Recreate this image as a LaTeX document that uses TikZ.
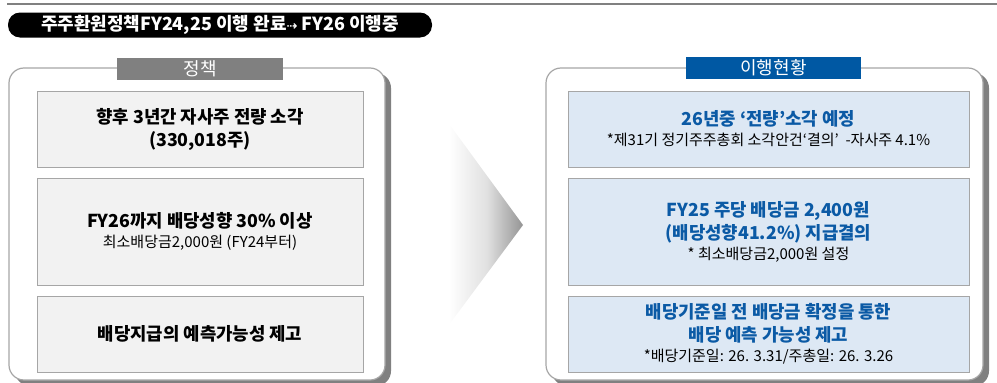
\documentclass[tikz,border=0pt]{standalone}
\usepackage{fontspec}
\setmainfont{Noto Sans CJK KR}
\newfontfamily\symfont{DejaVu Sans}
\usetikzlibrary{positioning}

\definecolor{krblue}{HTML}{0B5AA5}
\definecolor{tagblue}{HTML}{0058A3}
\definecolor{boxgray}{HTML}{F2F2F2}
\definecolor{boxblue}{HTML}{DDE8F4}
\definecolor{edgegray}{HTML}{A6A6A6}
\definecolor{shadegray}{HTML}{808080}

\pgfdeclarehorizontalshading{arrowfade}{100bp}{color(0bp)=(white); color(25bp)=(white);
    color(40bp)=(white); color(58bp)=(black!12); color(75bp)=(black!42); color(100bp)=(black!42)}

\newcommand{\boxhead}[1]{{\fontsize{17.8}{23}\selectfont\bfseries #1}}

\begin{document}
\begin{tikzpicture}[x=1pt, y=-1pt,
    panel/.style={draw=edgegray, line width=1.2pt, fill=white, rounded corners=15pt},
    panelshadow/.style={fill=shadegray, rounded corners=15pt},
    tagbox/.style={minimum height=22pt, inner sep=0pt, text=white, font=\fontsize{18}{20}\selectfont},
    polbox/.style={draw=edgegray, line width=1pt, fill=boxgray, minimum width=326pt,
        inner sep=0pt, align=center, font=\fontsize{15}{20}\selectfont},
    donebox/.style={polbox, fill=boxblue, minimum width=401pt}]
    \useasboundingbox (0,0) rectangle (997,383);

    % Header
    \draw[shadegray, line width=2pt] (7,4) -- (997,4);
    \node[fill=black, rounded corners=12pt, minimum width=424pt, minimum height=25pt,
        inner sep=0pt, text=white, font=\fontsize{18}{20}\selectfont\bfseries]
        (title) at (220,25) {주주환원정책FY24,25 이행 완료{\symfont\fontsize{13}{14}\selectfont ⇢} FY26 이행중};

    % Panels
    \fill[panelshadow] (15,73) rectangle (391,386);
    \draw[panel] (9,68) rectangle (385,380);
    \fill[panelshadow] (552,73) rectangle (989,386);
    \draw[panel] (546,68) rectangle (983,380);

    % Tags
    \node[tagbox, fill=shadegray, minimum width=166pt] (poltag) at (200,68.5) {정책};
    \node[tagbox, fill=tagblue, minimum width=175pt] (donetag) at (773.5,68) {이행현황};

    % Policy boxes
    \node[polbox, minimum height=76pt] (pol1) at (200,129)
        {\boxhead{향후 3년간 자사주 전량 소각}\\[3pt]\boxhead{(330,018주)}};
    \node[polbox, minimum height=107pt, below=10pt of pol1] (pol2)
        {\boxhead{FY26까지 배당성향 30\% 이상}\\최소배당금2,000원 (FY24부터)};
    \node[polbox, minimum height=76pt, below=10pt of pol2] (pol3)
        {\boxhead{배당지급의 예측가능성 제고}};

    % Done boxes
    \node[donebox, minimum height=76pt] (done1) at (768.5,129)
        {\color{krblue}\boxhead{26년중 ‘전량’소각 예정}\\*제31기 정기주주총회 소각안건‘결의’\ \ -자사주 4.1\%};
    \node[donebox, minimum height=107pt, below=10pt of done1] (done2)
        {\color{krblue}\boxhead{FY25 주당 배당금 2,400원}\\[3pt]\color{krblue}\boxhead{(배당성향41.2\%) 지급결의}\\* 최소배당금2,000원 설정};
    \node[donebox, minimum height=76pt, below=10pt of done2] (done3)
        {\color{krblue}\boxhead{배당기준일 전 배당금 확정을 통한}\\[3pt]\color{krblue}\boxhead{배당 예측 가능성 제고}\\*배당기준일: 26. 3.31/주총일: 26. 3.26};

    % Arrow
    \shade[shading=arrowfade] (417,80) -- (523,225) -- (417,368) -- cycle;

\end{tikzpicture}
\end{document}
